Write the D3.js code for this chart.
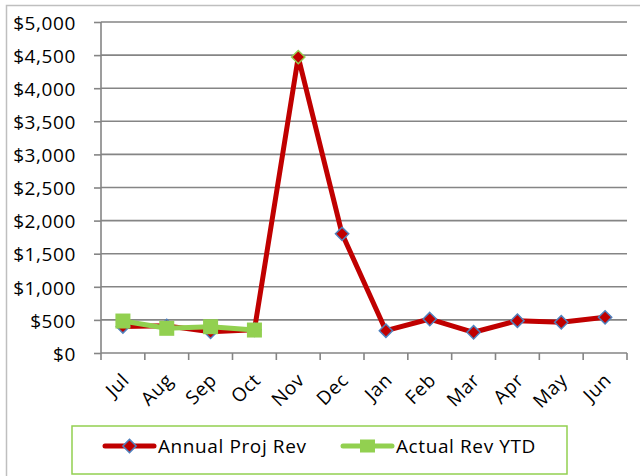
<!DOCTYPE html>
<html><head><meta charset="utf-8">
<script src="https://cdn.jsdelivr.net/npm/d3@7"></script>
<style>body{margin:0;background:#fff}svg{display:block}text{font-family:"Open Sans",sans-serif;fill:#000}</style>
</head><body>
<script>
const months = ["Jul","Aug","Sep","Oct","Nov","Dec","Jan","Feb","Mar","Apr","May","Jun"];
const annualProjRev = [400, 410, 320, 350, 4470, 1800, 337, 513, 313, 488, 464, 539];
const actualRevYTD = [483, 373, 397, 347];
const yTicks = [0,500,1000,1500,2000,2500,3000,3500,4000,4500,5000];
const seriesNames = ["Annual Proj Rev","Actual Rev YTD"];

const W=640,H=476,FS=19,LS=0.6,FF='"Open Sans",sans-serif';
const svg=d3.select("body").append("svg").attr("width",W).attr("height",H);
svg.append("rect").attr("x",6.5).attr("y",5.5).attr("width",660).attr("height",500)
  .attr("fill","#fff").attr("stroke","#bfbfbf").attr("stroke-width",1.5);

const L=101,R=627,T=22,B=353;
const x=d3.scaleBand().domain(months).range([L,R]);
const y=d3.scaleLinear().domain([0,5000]).range([B,T]);
const fmt=d=>"$"+d3.format(",")(d);
const GC="#858585",GW=1.6;

svg.append("g").selectAll("line").data(yTicks.filter(d=>d>0)).join("line")
  .attr("x1",L).attr("x2",R).attr("y1",d=>y(d)).attr("y2",d=>y(d))
  .attr("stroke",GC).attr("stroke-width",GW);

const ya=svg.append("g").attr("transform",`translate(${L},0)`)
  .call(d3.axisLeft(y).tickValues(yTicks).tickFormat(fmt).tickSize(7).tickPadding(18));
ya.select(".domain").attr("stroke",GC).attr("stroke-width",GW).attr("d",`M0,${T}V${B}`);
ya.selectAll(".tick line").attr("stroke",GC).attr("stroke-width",GW);
ya.selectAll(".tick text").attr("font-size",FS).attr("font-family",FF).attr("fill","#000")
  .attr("letter-spacing",LS).attr("dy","0.38em");

const xa=svg.append("g").attr("transform",`translate(0,${B})`)
  .call(d3.axisBottom(x).tickSize(0).tickFormat(""));
xa.select(".domain").attr("stroke",GC).attr("stroke-width",GW).attr("d",`M${L},0H${R}`);
const edges=months.map(m=>x(m)).concat([R]);
xa.selectAll(".edge").data(edges).join("line").attr("class","edge")
  .attr("x1",d=>d).attr("x2",d=>d).attr("y1",0).attr("y2",7)
  .attr("stroke",GC).attr("stroke-width",GW);
svg.append("g").selectAll("text").data(months).join("text")
  .attr("transform",d=>`translate(${x(d)+x.bandwidth()/2-2},${B+19}) rotate(-45)`)
  .attr("text-anchor","end").attr("dy","0.7em").attr("font-size",FS).attr("letter-spacing",LS).text(d=>d);

const cx=(d,i)=>x(months[i])+x.bandwidth()/2;
const line=d3.line().x((d,i)=>cx(d,i)).y(d=>y(d));
svg.append("path").datum(annualProjRev).attr("d",line).attr("fill","none")
  .attr("stroke","#c00000").attr("stroke-width",5).attr("stroke-linejoin","round");
const diamond=d3.symbol().type(d3.symbolDiamond2).size(112);
svg.append("g").selectAll("path").data(annualProjRev).join("path")
  .attr("transform",(d,i)=>`translate(${cx(d,i)},${y(d)})`).attr("d",diamond)
  .attr("fill","#c00000").attr("stroke",(d,i)=>i===4?"#92d050":"#4f81bd").attr("stroke-width",1.5);

svg.append("path").datum(actualRevYTD).attr("d",line).attr("fill","none")
  .attr("stroke","#92d050").attr("stroke-width",5).attr("stroke-linejoin","round");
svg.append("g").selectAll("rect").data(actualRevYTD).join("rect")
  .attr("x",(d,i)=>cx(d,i)-7.5).attr("y",d=>y(d)-7.5).attr("width",15).attr("height",15)
  .attr("fill","#92d050");

svg.append("rect").attr("x",72).attr("y",426).attr("width",495).attr("height",48)
  .attr("fill","#fff").attr("stroke","#92d050").attr("stroke-width",1.5);
const lg=svg.append("g");
lg.append("line").attr("x1",105).attr("x2",154).attr("y1",446).attr("y2",446)
  .attr("stroke","#c00000").attr("stroke-width",5).attr("stroke-linecap","round");
lg.append("path").attr("transform","translate(129.5,446)").attr("d",diamond)
  .attr("fill","#c00000").attr("stroke","#4f81bd").attr("stroke-width",1.5);
lg.append("text").attr("x",158).attr("y",446).attr("dy","0.36em").attr("font-size",FS).attr("letter-spacing",LS).text(seriesNames[0]);
lg.append("line").attr("x1",343).attr("x2",392).attr("y1",446).attr("y2",446)
  .attr("stroke","#92d050").attr("stroke-width",5).attr("stroke-linecap","round");
lg.append("rect").attr("x",360).attr("y",439.5).attr("width",15).attr("height",13).attr("fill","#92d050");
lg.append("text").attr("x",396).attr("y",446).attr("dy","0.36em").attr("font-size",FS).attr("letter-spacing",LS).text(seriesNames[1]);
</script>
</body></html>
